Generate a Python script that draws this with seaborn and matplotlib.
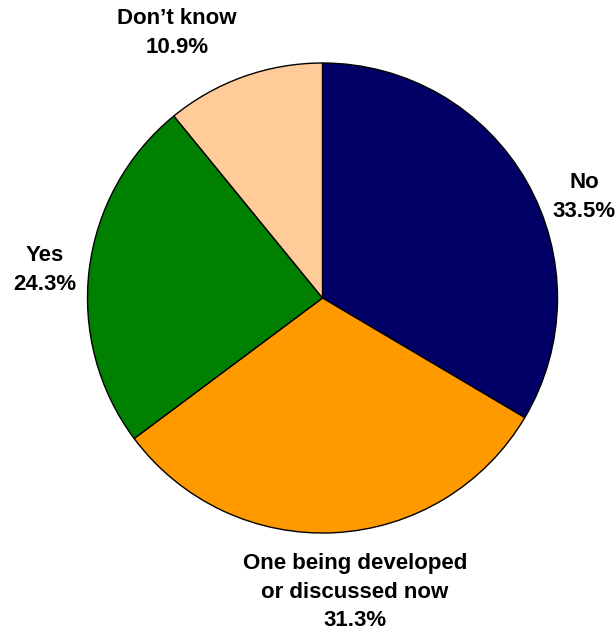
import matplotlib
matplotlib.use("Agg")
import matplotlib.pyplot as plt
import seaborn as sns

labels = ["No", "One being developed\nor discussed now", "Yes", "Don\u2019t know"]
shares = [33.5, 31.3, 24.3, 10.9]
colors = ["#000066", "#FF9900", "#008000", "#FFCC99"]

sns.set_theme(style="white")
plt.rcParams["font.family"] = ["Liberation Sans", "DejaVu Sans"]

W, H = 616, 631
fig = plt.figure(figsize=(W / 100, H / 100), dpi=100)
ax = fig.add_axes([0, 0, 1, 1])

cx, cy, r = 322.5, H - 298, 235
ax.pie(shares, colors=colors, startangle=90, counterclock=False,
       center=(cx, cy), radius=r,
       wedgeprops={"edgecolor": "black", "linewidth": 1.0})

# pie resets limits, so set the pixel frame afterwards
ax.set_xlim(0, W)
ax.set_ylim(0, H)
ax.set_aspect("equal")
ax.axis("off")

# label centres in pixel coords (x, y from top)
label_pos = [(584, 197), (355, 592), (45, 270), (177, 33)]
for lab, val, (px, py) in zip(labels, shares, label_pos):
    ax.text(px, H - py, f"{lab}\n{val:.1f}%", ha="center", va="center",
            fontsize=16, fontweight="bold", color="black",
            linespacing=1.45)

fig.savefig("out.png", dpi=100)
